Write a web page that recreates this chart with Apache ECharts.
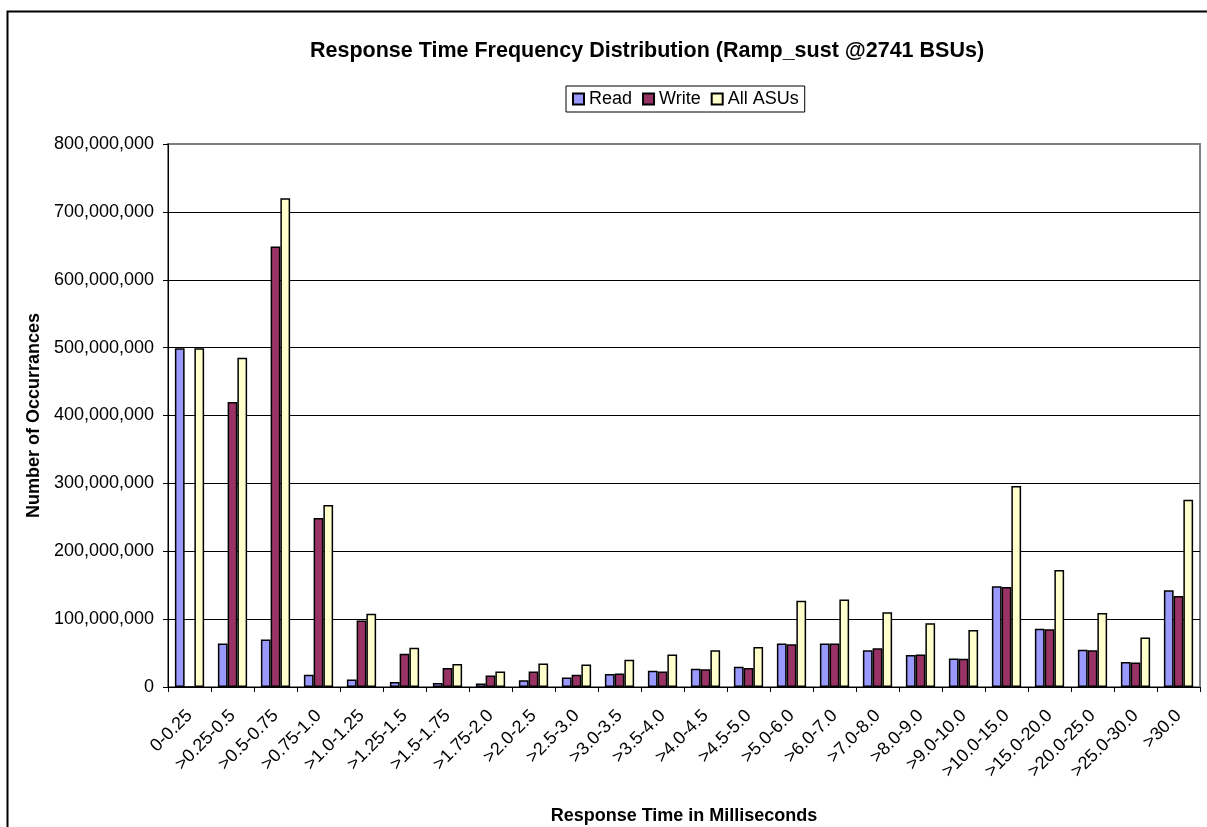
<!DOCTYPE html>
<html>
<head>
<meta charset="utf-8">
<script src="https://cdn.jsdelivr.net/npm/echarts@6/dist/echarts.min.js"></script>
<style>
  html, body { margin: 0; padding: 0; background: #fff; }
  #chart { width: 1207px; height: 827px; }
</style>
</head>
<body>
<div id="chart"></div>
<script>
// response time buckets (ms)
const categories = [
  '0-0.25', '>0.25-0.5', '>0.5-0.75', '>0.75-1.0', '>1.0-1.25', '>1.25-1.5',
  '>1.5-1.75', '>1.75-2.0', '>2.0-2.5', '>2.5-3.0', '>3.0-3.5', '>3.5-4.0',
  '>4.0-4.5', '>4.5-5.0', '>5.0-6.0', '>6.0-7.0', '>7.0-8.0', '>8.0-9.0',
  '>9.0-10.0', '>10.0-15.0', '>15.0-20.0', '>20.0-25.0', '>25.0-30.0', '>30.0'
]

const readValues = [
  499000000, 64000000, 70000000, 18000000, 11000000, 7500000,
  6000000, 5000000, 10000000, 14000000, 19000000, 24000000,
  27000000, 30000000, 64000000, 64000000, 54000000, 47000000,
  42000000, 148500000, 86000000, 55000000, 37000000, 142600000
]

const writeValues = [
  0, 420000000, 649000000, 249000000, 98000000, 49000000,
  28000000, 17000000, 23000000, 18000000, 20000000, 23000000,
  26000000, 28000000, 63000000, 64000000, 57000000, 48000000,
  41700000, 147500000, 85000000, 54000000, 36000000, 134000000
]

const allValues = [
  499000000, 485000000, 720000000, 268000000, 108000000, 58000000,
  34000000, 23000000, 34500000, 33000000, 40000000, 48000000,
  54000000, 59000000, 127000000, 129000000, 110000000, 94000000,
  84000000, 296000000, 172500000, 109000000, 73000000, 276000000
]

// y axis ticks
const Y_MIN = 0
const Y_MAX = 800000000
const Y_STEP = 100000000

const FONT = '"Liberation Sans", Arial, sans-serif'

const chart = echarts.init(document.getElementById('chart'))

function barSeries(name, color, values) {
  return {
    name,
    type: 'bar',
    data: values,
    barGap: '0%',
    barCategoryGap: '32%',
    itemStyle: { color, borderColor: '#000', borderWidth: 1.5 },
  }
}

chart.setOption({
  backgroundColor: '#fff',
  animation: false,
  textStyle: { fontFamily: FONT },
  title: {
    text: 'Response Time Frequency Distribution (Ramp_sust @2741 BSUs)',
    left: 642,
    textAlign: 'center',
    top: 35,
    textStyle: { fontFamily: FONT, fontSize: 21.5, fontWeight: 'bold', color: '#000' },
  },
  legend: {
    data: ['Read', 'Write', 'All ASUs'],
    left: 566,
    top: 86,
    icon: 'rect',
    itemWidth: 11,
    itemHeight: 11,
    itemGap: 10,
    padding: [4, 6, 4, 6],
    borderColor: '#000',
    borderWidth: 1,
    textStyle: { fontFamily: FONT, fontSize: 18, color: '#000' },
  },
  grid: {
    left: 168,
    right: 7,
    top: 144,
    bottom: 140,
    outerBoundsMode: 'none',
    show: true,
    borderColor: '#808080',
    borderWidth: 2,
  },
  xAxis: {
    type: 'category',
    data: categories,
    name: 'Response Time in Milliseconds',
    nameLocation: 'middle',
    nameGap: 120,
    nameTextStyle: { fontFamily: FONT, fontSize: 18, fontWeight: 'bold', color: '#000' },
    axisLine: { lineStyle: { color: '#000', width: 1 } },
    axisTick: { show: true, length: 5, lineStyle: { color: '#000' } },
    axisLabel: {
      interval: 0,
      rotate: 45,
      margin: 26,
      fontFamily: FONT,
      fontSize: 18,
      color: '#000',
    },
  },
  yAxis: {
    type: 'value',
    min: Y_MIN,
    max: Y_MAX,
    interval: Y_STEP,
    name: 'Number of Occurrances',
    nameLocation: 'middle',
    nameGap: 124,
    nameTextStyle: { fontFamily: FONT, fontSize: 18, fontWeight: 'bold', color: '#000' },
    axisLine: { show: true, lineStyle: { color: '#000', width: 1 } },
    axisTick: { show: true, length: 5, lineStyle: { color: '#000' } },
    axisLabel: {
      margin: 14,
      fontFamily: FONT,
      fontSize: 18,
      color: '#000',
      formatter: (v) => v.toLocaleString('en-US'),
    },
    splitLine: {
      lineStyle: {
        color: ['#000', '#000', '#000', '#000', '#000', '#000', '#000', '#000', '#808080'],
        width: 1,
      },
    },
  },
  graphic: [
    {
      type: 'rect',
      left: 5,
      top: 9,
      silent: true,
      shape: { x: 0, y: 0, width: 1300, height: 900 },
      style: { fill: 'none', stroke: '#000', lineWidth: 2 },
    },
  ],
  series: [
    barSeries('Read', '#9999FF', readValues),
    barSeries('Write', '#993366', writeValues),
    barSeries('All ASUs', '#FFFFCC', allValues),
  ],
})
</script>
</body>
</html>
